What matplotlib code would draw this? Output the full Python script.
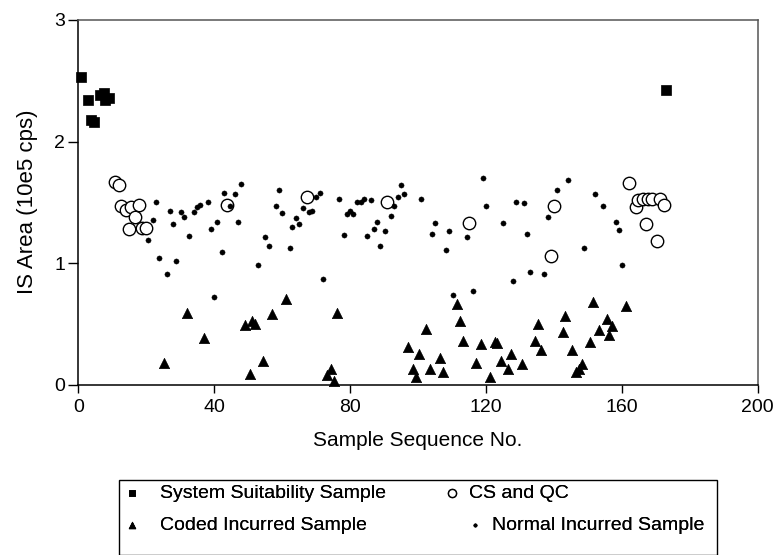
import matplotlib
matplotlib.use("Agg")
import matplotlib.pyplot as plt
from matplotlib.patches import Rectangle

plt.rcParams['font.family'] = ['Liberation Sans', 'DejaVu Sans']

# System Suitability Sample
ss_x = [0.7, 2.9, 3.7, 4.6, 6.5, 7.5, 8.0, 9.0, 173.0]
ss_y = [2.53, 2.34, 2.18, 2.16, 2.38, 2.40, 2.34, 2.36, 2.42]

# CS and QC
cs_x = [10.8, 12.0, 12.6, 14.0, 15.0, 15.5, 16.7, 18.0, 18.7, 20.0, 43.8, 67.2, 91.0,
        115.0, 139.1, 140.1, 162.2, 164.2, 164.9, 166.2, 167.2, 167.7, 168.9, 170.3,
        171.1, 172.3]
cs_y = [1.67, 1.64, 1.47, 1.44, 1.28, 1.46, 1.38, 1.48, 1.29, 1.29, 1.48, 1.54, 1.50,
        1.33, 1.06, 1.47, 1.66, 1.46, 1.52, 1.53, 1.32, 1.53, 1.53, 1.18,
        1.53, 1.48]

# Coded Incurred Sample
ci_x = [25.1, 32.0, 37.1, 49.1, 50.4, 51.2, 52.1, 54.3, 57.0, 61.1, 73.1, 74.5, 75.4,
        76.2, 97.2, 98.4, 99.3, 100.2, 102.5, 103.4, 106.5, 107.4, 111.4, 112.3, 113.2,
        117.2, 118.5, 121.2, 122.6, 123.4, 124.4, 126.5, 127.3, 130.5, 134.5, 135.4,
        136.3, 142.6, 143.4, 145.3, 146.6, 147.3, 148.2, 150.5, 151.4, 153.2, 155.5,
        156.3, 157.1, 161.3]
ci_y = [0.18, 0.59, 0.38, 0.49, 0.09, 0.52, 0.50, 0.19, 0.58, 0.70, 0.08, 0.13, 0.03,
        0.59, 0.31, 0.125, 0.06, 0.25, 0.46, 0.125, 0.22, 0.10, 0.66, 0.52, 0.36,
        0.18, 0.33, 0.06, 0.35, 0.34, 0.19, 0.125, 0.25, 0.17, 0.36, 0.50,
        0.28, 0.43, 0.56, 0.28, 0.10, 0.13, 0.17, 0.35, 0.68, 0.45, 0.54,
        0.41, 0.48, 0.65]

# Normal Incurred Sample
ni_x = [20.6, 22.1, 22.9, 23.8, 26.1, 27.1, 27.8, 28.7, 30.2, 31.0, 32.7, 34.1, 34.9,
        35.9, 38.2, 39.1, 39.8, 40.8, 42.2, 43.0, 44.7, 46.0, 46.9, 47.8, 52.8, 55.0,
        56.0, 58.1, 59.0, 60.0, 62.2, 63.0, 64.0, 64.9, 66.2, 68.0, 68.9, 70.1, 71.1,
        72.0, 76.8, 78.2, 79.0, 79.9, 80.9, 82.1, 83.1, 84.1, 84.9, 86.3, 87.1, 88.0,
        88.9, 90.2, 92.0, 92.9, 94.1, 95.0, 96.0, 100.9, 104.0, 104.9, 108.1, 109.0,
        110.2, 114.3, 116.1, 119.2, 120.1, 125.0, 128.0, 128.9, 131.2, 132.1, 133.0,
        137.0, 138.4, 141.0, 144.1, 149.0, 152.1, 154.4, 158.4, 159.3, 160.1]
ni_y = [1.19, 1.35, 1.50, 1.04, 0.91, 1.43, 1.32, 1.02, 1.42, 1.38, 1.22, 1.42, 1.46,
        1.48, 1.50, 1.28, 0.72, 1.34, 1.09, 1.58, 1.47, 1.57, 1.34, 1.65, 0.98, 1.21,
        1.14, 1.47, 1.60, 1.41, 1.12, 1.30, 1.37, 1.32, 1.45, 1.42, 1.43, 1.54, 1.58,
        0.87, 1.53, 1.23, 1.40, 1.43, 1.40, 1.50, 1.50, 1.53, 1.22, 1.52, 1.28, 1.34,
        1.14, 1.26, 1.39, 1.47, 1.54, 1.64, 1.57, 1.53, 1.24, 1.33, 1.11, 1.26,
        0.74, 1.21, 0.77, 1.70, 1.47, 1.33, 0.85, 1.50, 1.49, 1.24, 0.93,
        0.91, 1.38, 1.60, 1.68, 1.12, 1.57, 1.47, 1.34, 1.27, 0.98]

labels = ["System Suitability Sample", "CS and QC",
          "Coded Incurred Sample", "Normal Incurred Sample"]
x_ticks = [0, 40, 80, 120, 160, 200]
y_ticks = [0, 1, 2, 3]

W, H = 777.0, 555.0
fig = plt.figure(figsize=(W / 100, H / 100), dpi=100)
ax = fig.add_axes([78.3 / W, 1 - 384.5 / H, (757.7 - 78.3) / W, (384.5 - 20) / H])

h_ss = ax.scatter(ss_x, ss_y, marker='s', s=45, c='black', edgecolors='black',
                  linewidths=0.5, zorder=3, clip_on=False)
h_cs = ax.scatter(cs_x, cs_y, marker='o', s=80, facecolors='white', edgecolors='black',
                  linewidths=1.0, zorder=3, clip_on=False)
h_ci = ax.scatter(ci_x, ci_y, marker='^', s=55, c='black', edgecolors='black',
                  linewidths=0.5, zorder=4, clip_on=False)
h_ni = ax.scatter(ni_x, ni_y, marker='o', s=14, c='black', edgecolors='black',
                  linewidths=0.3, zorder=5, clip_on=False)

ax.set_xlim(0, 200)
ax.set_ylim(0, 3)
ax.set_xticks(x_ticks)
ax.set_yticks(y_ticks)
ax.tick_params(axis='x', direction='out', length=5.5, width=1, labelsize=14,
               colors='black', pad=5)
ax.tick_params(axis='y', direction='out', length=7.5, width=1, labelsize=14,
               colors='black', pad=2)
for side in ['left', 'bottom']:
    ax.spines[side].set_color('black')
    ax.spines[side].set_linewidth(1.1)
for side in ['top', 'right']:
    ax.spines[side].set_color('#555555')
    ax.spines[side].set_linewidth(1.1)

ax.set_xlabel("Sample Sequence No.", fontsize=15, labelpad=11)
ax.set_ylabel("IS Area (10e5 cps)", fontsize=16, labelpad=12)

# Legend frame
fig.patches.append(Rectangle((119 / W, 0.0), (716.7 - 119) / W, (555 - 480) / H,
                             transform=fig.transFigure, fill=False,
                             edgecolor='black', linewidth=1.0, clip_on=False))

legend_fs = 14
em = legend_fs * 100 / 72.0
# (handle, label, marker-centre px, text-start px, row-centre px)
entries = [
    (h_ss, labels[0], 132, 160, 493),
    (h_cs, labels[1], 452, 469, 493),
    (h_ci, labels[2], 132, 160, 525),
    (h_ni, labels[3], 475, 492, 525),
]
hl = 1.0
for h, lab, mx, tx, ry in entries:
    start = mx - hl * em / 2
    pad = (tx - (start + hl * em)) / em
    leg = fig.legend([h], [lab], frameon=False, loc='center left',
                     bbox_to_anchor=(start / W, 1 - ry / H),
                     fontsize=legend_fs, markerscale=0.65, handlelength=hl,
                     handletextpad=pad, borderpad=0.0, borderaxespad=0.0)
    fig.add_artist(leg)

fig.savefig("out.png", dpi=100)
